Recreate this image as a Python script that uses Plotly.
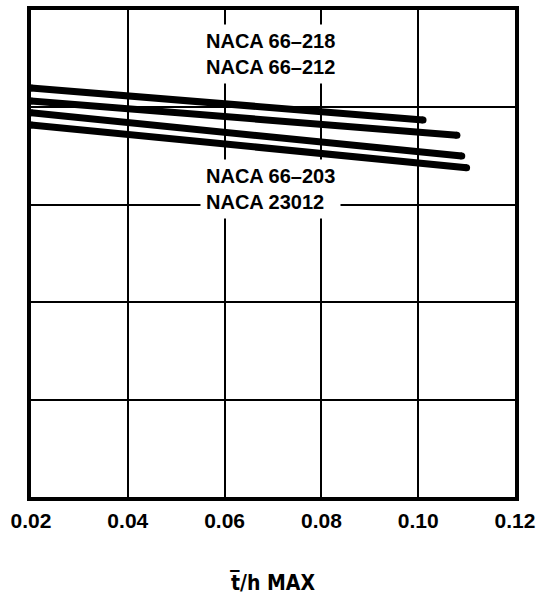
import plotly.graph_objects as go

# ---- data ----
series_names = ["NACA 66-218", "NACA 66-212", "NACA 66-203", "NACA 23012"]
x_start = [0.02, 0.02, 0.02, 0.02]
x_end = [0.101, 0.108, 0.109, 0.110]
y_start = [0.840, 0.813, 0.789, 0.764]
y_end = [0.774, 0.743, 0.700, 0.676]

x_ticks = [0.02, 0.04, 0.06, 0.08, 0.10, 0.12]
x_tick_labels = ["0.02", "0.04", "0.06", "0.08", "0.10", "0.12"]

upper_labels = ["NACA 66\u2013218", "NACA 66\u2013212"]
lower_labels = ["NACA 66\u2013203", "NACA 23012"]

FONT = "Liberation Sans, Arial, sans-serif"

fig = go.Figure()
for name, x0, x1, y0, y1 in zip(series_names, x_start, x_end, y_start, y_end):
    fig.add_trace(go.Scatter(
        x=[x0, x1], y=[y0, y1], mode="lines+markers", name=name,
        line=dict(color="black", width=7),
        marker=dict(color="black", size=7),
        showlegend=False, hoverinfo="name",
    ))

fig.add_annotation(x=0.0549, y=0.91, xref="x", yref="y",
                   text="<br>".join(upper_labels), showarrow=False,
                   xanchor="left", yanchor="middle", align="left",
                   bgcolor="white", borderpad=5,
                   font=dict(family=FONT, size=20, color="black", weight="bold"))
fig.add_annotation(x=0.0549, y=0.632, xref="x", yref="y",
                   text="<br>".join(lower_labels), showarrow=False,
                   xanchor="left", yanchor="middle", align="left",
                   bgcolor="white", borderpad=5,
                   font=dict(family=FONT, size=20, color="black", weight="bold"))

fig.update_layout(
    width=550, height=595,
    margin=dict(l=31, r=35, t=10, b=98),
    paper_bgcolor="white", plot_bgcolor="white",
    xaxis=dict(
        range=[0.02, 0.12], tickvals=x_ticks, ticktext=x_tick_labels,
        showgrid=True, gridcolor="black", gridwidth=2,
        showline=True, linecolor="black", linewidth=4, mirror=True,
        zeroline=False, ticks="", ticklabelstandoff=2, automargin=False,
        tickfont=dict(family=FONT, size=21, color="black", weight="bold"),
        title=dict(text="t\u0305/h MAX", standoff=47,
                   font=dict(family="DejaVu Sans Condensed, sans-serif", size=21,
                             color="black", weight="bold")),
    ),
    yaxis=dict(
        range=[0, 1], dtick=0.2, showticklabels=False, automargin=False,
        showgrid=True, gridcolor="black", gridwidth=2,
        showline=True, linecolor="black", linewidth=4, mirror=True,
        zeroline=False, ticks="",
    ),
)

fig.write_html("out.html")
